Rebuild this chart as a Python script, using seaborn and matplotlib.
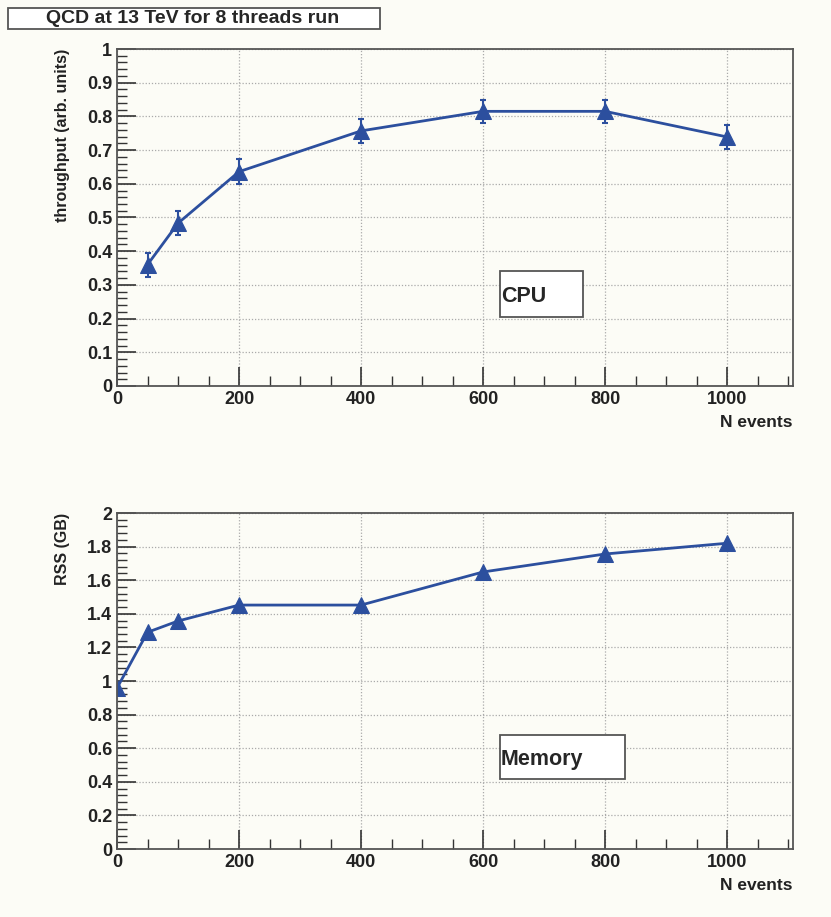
import numpy as np
import pandas as pd
import matplotlib
matplotlib.use("Agg")
import matplotlib.pyplot as plt
import seaborn as sns
from matplotlib.ticker import MultipleLocator, FuncFormatter
from matplotlib.patches import Rectangle

# data
cpu_events = [50, 100, 200, 400, 600, 800, 1000]
cpu_throughput = [0.36, 0.483, 0.636, 0.757, 0.815, 0.815, 0.739]
cpu_err = [0.036, 0.036, 0.037, 0.036, 0.035, 0.035, 0.035]

mem_events = [0, 50, 100, 200, 400, 600, 800, 1000]
mem_rss = [0.958, 1.29, 1.357, 1.452, 1.452, 1.649, 1.756, 1.82]

blue = "#2c4f9e"
bg = "#fcfcf6"
W, H = 831, 917

sns.set_style("ticks")
plt.rcParams["font.family"] = ["Liberation Sans", "DejaVu Sans"]
plt.rcParams["font.weight"] = "bold"

fig = plt.figure(figsize=(8.31, 9.17), dpi=100, facecolor=bg)
ax1 = fig.add_axes([117 / W, 1 - 386 / H, 676 / W, 337 / H])
ax2 = fig.add_axes([117 / W, 1 - 849 / H, 676 / W, 336 / H])

cpu = pd.DataFrame({"N": cpu_events, "val": cpu_throughput, "err": cpu_err})
mem = pd.DataFrame({"N": mem_events, "val": mem_rss})

sns.lineplot(data=cpu, x="N", y="val", ax=ax1, color=blue, lw=2,
             marker="^", markersize=11, markeredgecolor=blue)
ax1.errorbar(cpu["N"], cpu["val"], yerr=cpu["err"], fmt="none",
             ecolor=blue, elinewidth=1.5, capsize=2.5, capthick=1.5)
sns.lineplot(data=mem, x="N", y="val", ax=ax2, color=blue, lw=2,
             marker="^", markersize=11, markeredgecolor=blue)


def style(ax, ymax, ymaj, ymin, ylabel):
    ax.set_facecolor(bg)
    ax.set_xlim(0, 1108)
    ax.set_ylim(0, ymax)
    ax.xaxis.set_major_locator(MultipleLocator(200))
    ax.xaxis.set_minor_locator(MultipleLocator(50))
    ax.yaxis.set_major_locator(MultipleLocator(ymaj))
    ax.yaxis.set_minor_locator(MultipleLocator(ymin))
    ax.yaxis.set_major_formatter(FuncFormatter(lambda v, p: f"{v:g}"))
    ax.tick_params(which="both", direction="in", top=False, right=False,
                   labelsize=13, colors="#333333", labelcolor="#222222")
    ax.tick_params(which="major", length=14, width=1.2)
    ax.tick_params(which="minor", length=7, width=1.0)
    ax.grid(True, which="major", linestyle=(0, (1, 1.5)), color="#aaaaaa", lw=0.9)
    for s in ax.spines.values():
        s.set_color("#555555")
        s.set_linewidth(1.3)
    ax.set_xlabel("")
    ax.set_ylabel("")
    ax.text(1.0, -0.085, "N events", transform=ax.transAxes, ha="right",
            va="top", fontsize=12.5, fontweight="bold", color="#222222")
    ax.text(-0.081, 1.0, ylabel, transform=ax.transAxes, ha="center",
            va="top", rotation=90, fontsize=11.5, fontweight="bold",
            color="#222222")
    for lab in ax.get_xticklabels() + ax.get_yticklabels():
        lab.set_fontweight("bold")


style(ax1, 1.0, 0.1, 0.02, "throughput (arb. units)")
style(ax2, 2.0, 0.2, 0.04, "RSS (GB)")


def pixbox(x0, y0, x1, y1):
    fig.add_artist(Rectangle((x0 / W, 1 - y1 / H), (x1 - x0) / W, (y1 - y0) / H,
                             transform=fig.transFigure, facecolor="white",
                             edgecolor="#555555", lw=1.3, zorder=5))


pixbox(8, 8, 380, 29)
fig.text(193 / W, 1 - 18.5 / H, "QCD at 13 TeV for 8 threads run", fontsize=14,
         fontweight="bold", va="center", ha="center", zorder=6)

pixbox(500, 271, 583, 317)
fig.text(501 / W, 1 - 297 / H, "CPU", fontsize=15.5, fontweight="bold",
         va="center", ha="left", zorder=6)

pixbox(500, 735, 625, 779)
fig.text(501 / W, 1 - 759 / H, "Memory", fontsize=15.5, fontweight="bold",
         va="center", ha="left", zorder=6)

fig.savefig("out.png", dpi=100, facecolor=bg)
